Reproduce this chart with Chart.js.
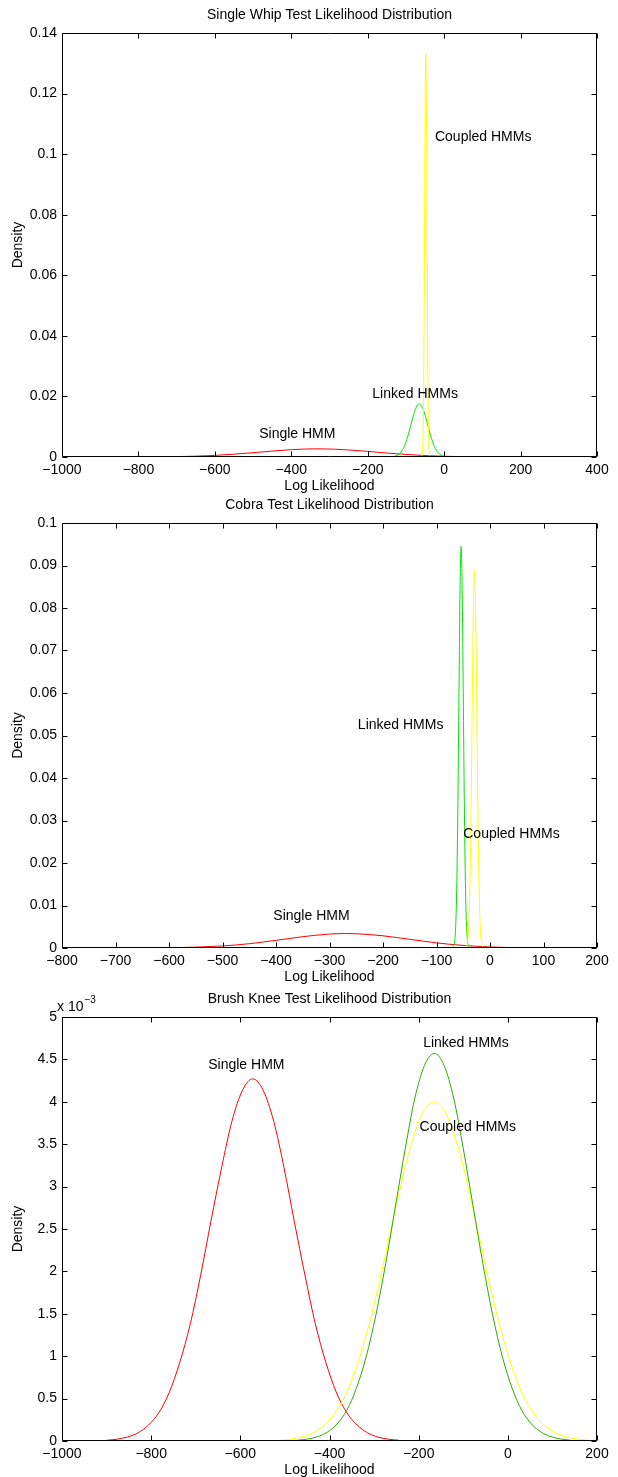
<!DOCTYPE html>
<html><head><meta charset="utf-8">
<script src="https://cdn.jsdelivr.net/npm/chart.js@4.4.1/dist/chart.umd.min.js"></script>
<style>
html,body{margin:0;padding:0;background:#fff;}
#wrap{position:relative;width:618px;height:1477px;overflow:hidden;background:#fff;}
canvas{position:absolute;left:0;}
</style></head><body><div id="wrap">
<canvas id="c1"></canvas><canvas id="c2"></canvas><canvas id="c3"></canvas>
</div>
<script>
// ---------- Panel 1: Single Whip ----------
const whipTitle = "Single Whip Test Likelihood Distribution";
const whipX_single  = [-900,-800,-700,-600,-500,-400,-330,-250,-150,-50,50,150,250];
const whipY_single  = [0.000002,0.00002,0.00013,0.00053,0.00142,0.00242,0.0027,0.00234,0.00131,0.00047,0.00011,0.00002,0];
const whipX_linked  = [-133,-123,-113,-103,-93,-83,-73,-65,-53,-43,-33,-23,-13,-3,7];
const whipY_linked  = [0.00015,0.00054,0.00162,0.0039,0.0078,0.0125,0.0164,0.0175,0.0151,0.0106,0.0061,0.0028,0.0011,0.00033,0.00008];
const whipX_coupled = [-60,-58,-56,-54,-52,-50,-48,-46,-44,-42,-40,-38,-36];
const whipY_coupled = [0.00004,0.0005,0.0038,0.018,0.0547,0.1065,0.133,0.1065,0.0547,0.018,0.0038,0.0005,0.00004];
const whipLabelText = ["Coupled HMMs","Linked HMMs","Single HMM"];
const whipLabelX    = [-24,-188,-484];
const whipLabelY    = [0.1056,0.0208,0.0074];

// ---------- Panel 2: Cobra ----------
const cobraTitle = "Cobra Test Likelihood Distribution";
const cobraX_single  = [-800,-700,-600,-500,-450,-400,-350,-300,-268,-250,-200,-150,-100,-50,0,50,100,150,200];
const cobraY_single  = [0,0.000004,0.00006,0.00048,0.00101,0.0018,0.00266,0.00328,0.0034,0.00336,0.00287,0.00204,0.00121,0.0006,0.00025,0.00008,0.00002,0.000004,0];
const cobraX_linked  = [-68,-66,-64,-62,-60,-58,-56,-54,-52,-50,-48,-46,-44,-42,-40];
const cobraY_linked  = [0.00036,0.0016,0.0056,0.0154,0.034,0.0601,0.0844,0.0945,0.0844,0.0601,0.034,0.0154,0.0056,0.0016,0.00036];
const cobraX_coupled = [-45,-43,-41,-39,-37,-35,-33,-31,-29,-27,-25,-23,-21,-19,-17,-15,-13];
const cobraY_coupled = [0.00016,0.0007,0.0025,0.0075,0.0183,0.0366,0.06,0.0806,0.089,0.0806,0.06,0.0366,0.0183,0.0075,0.0025,0.0007,0.00016];
const cobraLabelText = ["Linked HMMs","Coupled HMMs","Single HMM"];
const cobraLabelX    = [-247,-50,-405];
const cobraLabelY    = [0.0525,0.0268,0.0075];

// ---------- Panel 3: Brush Knee ----------
const kneeTitle = "Brush Knee Test Likelihood Distribution";
const kneeX_single  = [-899,-876,-853,-829,-806,-782,-759,-736,-712,-689,-666,-642,-619,-595,-572,-549,-525,-502,-479,-455,-432,-408,-385,-362,-338,-315,-292,-268,-245];
const kneeY_single  = [0.0000094,0.0000217,0.0000474,0.0000974,0.000188,0.00034,0.000578,0.000924,0.001386,0.001955,0.00259,0.003223,0.003768,0.004138,0.00427,0.004138,0.003768,0.003223,0.00259,0.001955,0.001386,0.000924,0.000578,0.00034,0.000188,0.0000974,0.0000474,0.0000217,0.0000094];
const kneeX_linked  = [-471,-449,-427,-405,-383,-361,-340,-318,-296,-274,-252,-230,-209,-187,-165,-143,-121,-100,-78,-56,-34,-12,10,31,53,75,97,119,141];
const kneeY_linked  = [0.00001,0.0000232,0.0000507,0.000104,0.000201,0.000364,0.000618,0.000988,0.001484,0.002092,0.002772,0.003449,0.004033,0.004429,0.00457,0.004429,0.004033,0.003449,0.002772,0.002092,0.001484,0.000988,0.000618,0.000364,0.000201,0.000104,0.0000507,0.0000232,0.00001];
const kneeX_coupled = [-514,-489,-464,-439,-414,-389,-364,-340,-315,-290,-265,-240,-215,-190,-165,-140,-115,-90,-65,-40,-15,10,34,59,84,109,134,159,184];
const kneeY_coupled = [0.0000088,0.0000203,0.0000444,0.0000912,0.000176,0.000318,0.000541,0.000865,0.001299,0.001831,0.002426,0.003019,0.00353,0.003877,0.004,0.003877,0.00353,0.003019,0.002426,0.001831,0.001299,0.000865,0.000541,0.000318,0.000176,0.0000912,0.0000444,0.0000203,0.0000088];
const kneeLabelText = ["Single HMM","Linked HMMs","Coupled HMMs"];
const kneeLabelX    = [-672,-190,-198];
const kneeLabelY    = [0.00443,0.00469,0.0037];

// axis settings (tick ranges)
const whipXTicks  = [-1000,400,200], whipYTicks  = [0,0.14,0.02];
const cobraXTicks = [-800,200,100],  cobraYTicks = [0,0.1,0.01];
const kneeXTicks  = [-1000,200,200], kneeYTicks  = [0,0.005,0.0005];

const axisXLabel = "Log Likelihood";
const axisYLabel = "Density";

const FONT = "'Liberation Sans', Arial, Helvetica, sans-serif";
const FS = 14;
const PLOT_LEFT = 62, PLOT_RIGHT = 597;

function fmtX(v){ return v < 0 ? "\u2212" + Math.abs(v) : String(v); }

const framePlugin = {
  id: 'frame',
  afterDraw(chart){
    const p = chart.options.plugins.frame;
    const {ctx, chartArea:{left,right,top,bottom}, scales:{x,y}} = chart;
    ctx.save();
    ctx.strokeStyle = '#000'; ctx.lineWidth = 1;
    const L = Math.round(left)+0.5, R = Math.round(right)-0.5, T = Math.round(top)+0.5, B = Math.round(bottom)-0.5;
    ctx.beginPath();
    ctx.moveTo(L,T); ctx.lineTo(R,T); ctx.lineTo(R,B); ctx.lineTo(L,B); ctx.closePath();
    const tl = 5;
    x.ticks.forEach(t => {
      const px = Math.round(x.getPixelForValue(t.value)) + 0.5;
      ctx.moveTo(px,B); ctx.lineTo(px,B-tl);
      ctx.moveTo(px,T); ctx.lineTo(px,T+tl);
    });
    y.ticks.forEach(t => {
      const py = Math.round(y.getPixelForValue(t.value)) + 0.5;
      ctx.moveTo(L,py); ctx.lineTo(L+tl,py);
      ctx.moveTo(R,py); ctx.lineTo(R-tl,py);
    });
    ctx.stroke();
    ctx.fillStyle = '#000';
    ctx.font = FS + 'px ' + FONT;
    ctx.textAlign = 'center'; ctx.textBaseline = 'middle';
    ctx.fillText(p.title, (left+right)/2, top - 18);
    ctx.fillText(axisXLabel, (left+right)/2, bottom + 29);
    ctx.save();
    ctx.translate(18, (top+bottom)/2);
    ctx.rotate(-Math.PI/2);
    ctx.fillText(axisYLabel, 0, 0);
    ctx.restore();
    ctx.textAlign = 'left';
    p.labels.text.forEach((s,i) => {
      ctx.fillText(s, x.getPixelForValue(p.labels.x[i]), y.getPixelForValue(p.labels.y[i]));
    });
    if (p.exponent) {
      ctx.textAlign = 'left';
      ctx.fillText('x 10', 57, top - 10);
      const w = ctx.measureText('x 10').width;
      ctx.font = '10px ' + FONT;
      ctx.fillText('\u22123', 57 + w + 1, top - 17);
    }
    ctx.restore();
  }
};

function makeChart(cfg){
  const cv = document.getElementById(cfg.id);
  cv.width = 618; cv.height = cfg.h;
  cv.style.width = '618px'; cv.style.height = cfg.h + 'px'; cv.style.top = cfg.top + 'px';
  const ds = cfg.series.map(s => ({
    data: s.xs.map((xv,i) => ({x: xv, y: s.ys[i]})),
    borderColor: s.color, borderWidth: 1, pointRadius: 0, fill: false,
    cubicInterpolationMode: 'monotone'
  }));
  new Chart(cv, {
    type: 'line',
    data: {datasets: ds},
    options: {
      responsive: false, animation: false, devicePixelRatio: 1,
      layout: {padding: {left: 0, right: 618 - PLOT_RIGHT, top: cfg.plotTop, bottom: 0}},
      plugins: {
        legend: {display: false}, tooltip: {enabled: false},
        frame: {title: cfg.title, labels: cfg.labels, exponent: cfg.exponent}
      },
      scales: {
        x: {
          type: 'linear', min: cfg.xt[0], max: cfg.xt[1],
          grid: {display: false, drawTicks: false}, border: {display: false},
          ticks: {stepSize: cfg.xt[2], autoSkip: false, maxRotation: 0, padding: 5, color: '#000',
                  font: {family: FONT, size: FS}, callback: v => fmtX(v)},
          afterFit: s => { s.height = cfg.h - cfg.plotBottom; }
        },
        y: {
          type: 'linear', min: cfg.yt[0], max: cfg.yt[1],
          grid: {display: false, drawTicks: false}, border: {display: false},
          ticks: {stepSize: cfg.yt[2], autoSkip: false, padding: 5, color: '#000',
                  font: {family: FONT, size: FS},
                  callback: v => String(parseFloat((v * cfg.yscale).toFixed(4)))},
          afterFit: s => { s.width = PLOT_LEFT; }
        }
      }
    },
    plugins: [framePlugin]
  });
}

makeChart({id:'c1', top:0, h:494, plotTop:33, plotBottom:457, xt:whipXTicks, yt:whipYTicks, yscale:1,
  title: whipTitle, labels:{text:whipLabelText, x:whipLabelX, y:whipLabelY},
  series:[
    {xs:whipX_coupled, ys:whipY_coupled, color:'#ffff00'},
    {xs:whipX_linked, ys:whipY_linked, color:'#00e600'},
    {xs:whipX_single, ys:whipY_single, color:'#ff0000'}
  ]});
makeChart({id:'c2', top:494, h:492, plotTop:29, plotBottom:454, xt:cobraXTicks, yt:cobraYTicks, yscale:1,
  title: cobraTitle, labels:{text:cobraLabelText, x:cobraLabelX, y:cobraLabelY},
  series:[
    {xs:cobraX_coupled, ys:cobraY_coupled, color:'#ffff00'},
    {xs:cobraX_linked, ys:cobraY_linked, color:'#00e600'},
    {xs:cobraX_single, ys:cobraY_single, color:'#ff0000'}
  ]});
makeChart({id:'c3', top:986, h:491, plotTop:31, plotBottom:455, xt:kneeXTicks, yt:kneeYTicks, yscale:1000,
  title: kneeTitle, labels:{text:kneeLabelText, x:kneeLabelX, y:kneeLabelY}, exponent:true,
  series:[
    {xs:kneeX_linked, ys:kneeY_linked, color:'#30a800'},
    {xs:kneeX_coupled, ys:kneeY_coupled, color:'#ffff00'},
    {xs:kneeX_single, ys:kneeY_single, color:'#ff0000'}
  ]});
</script>
</body></html>
